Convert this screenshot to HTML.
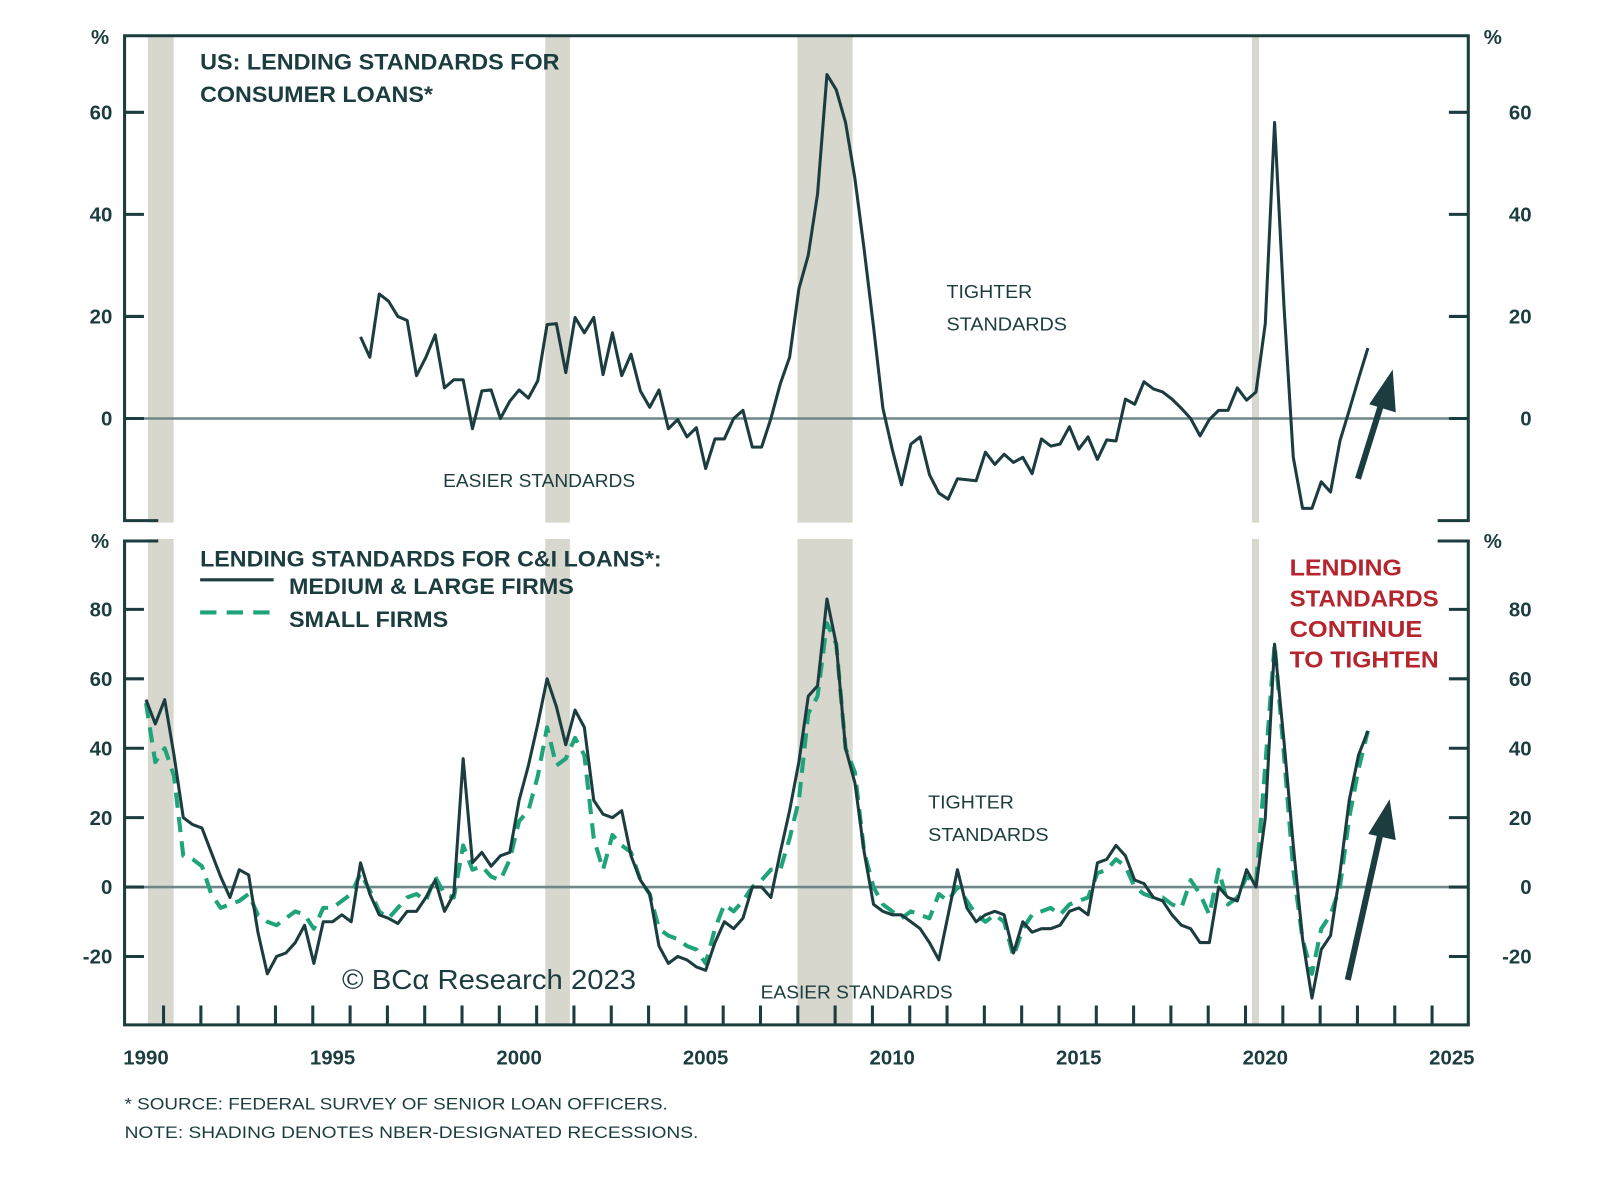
<!DOCTYPE html>
<html><head><meta charset="utf-8"><style>
html,body{margin:0;padding:0;background:#fff;}
svg{display:block;}
text{font-family:"Liberation Sans",sans-serif;fill:#1c3d3f;}
</style></head><body>
<svg id="chart" width="1600" height="1179" viewBox="0 0 1567 1155" preserveAspectRatio="none" xmlns="http://www.w3.org/2000/svg">
<g id="shades"></g>
<g id="grid"></g>
<g id="series"></g>
<g id="axes" stroke="#1c3d3f" stroke-width="3" fill="none">
  <path d="M155,510 H122 V35 H1438 V510 H1408"/>
  <path d="M155,530 H122 V1004 H1438 V530 H1408"/>
</g>
<g id="ticks"></g>
<g id="labels"></g>

<text x="98" y="43" font-size="20" font-weight="bold" text-anchor="middle">%</text>
<text x="1462" y="43" font-size="20" font-weight="bold" text-anchor="middle">%</text>
<text x="98" y="537" font-size="20" font-weight="bold" text-anchor="middle">%</text>
<text x="1462" y="537" font-size="20" font-weight="bold" text-anchor="middle">%</text>

<text x="196" y="68" font-size="22" font-weight="bold" textLength="352" lengthAdjust="spacingAndGlyphs">US: LENDING STANDARDS FOR</text>
<text x="196" y="100" font-size="22" font-weight="bold" textLength="228" lengthAdjust="spacingAndGlyphs">CONSUMER LOANS*</text>
<text x="927" y="292" font-size="18" textLength="84" lengthAdjust="spacingAndGlyphs">TIGHTER</text>
<text x="927" y="324" font-size="18" textLength="118" lengthAdjust="spacingAndGlyphs">STANDARDS</text>
<text x="434" y="477" font-size="18" textLength="188" lengthAdjust="spacingAndGlyphs">EASIER STANDARDS</text>

<text x="196" y="555" font-size="22" font-weight="bold" textLength="452" lengthAdjust="spacingAndGlyphs">LENDING STANDARDS FOR C&amp;I LOANS*:</text>
<line x1="196" y1="568" x2="268" y2="568" stroke="#1c3d3f" stroke-width="3"/>
<text x="283" y="582" font-size="22" font-weight="bold" textLength="279" lengthAdjust="spacingAndGlyphs">MEDIUM &amp; LARGE FIRMS</text>
<line x1="196" y1="600" x2="270" y2="600" stroke="#1fa37a" stroke-width="4" stroke-dasharray="16,10"/>
<text x="283" y="614" font-size="22" font-weight="bold" textLength="156" lengthAdjust="spacingAndGlyphs">SMALL FIRMS</text>
<text x="909" y="792" font-size="18" textLength="84" lengthAdjust="spacingAndGlyphs">TIGHTER</text>
<text x="909" y="824" font-size="18" textLength="118" lengthAdjust="spacingAndGlyphs">STANDARDS</text>
<text x="745" y="978" font-size="18" textLength="188" lengthAdjust="spacingAndGlyphs">EASIER STANDARDS</text>
<text x="335" y="969" font-size="27" font-family="Liberation Serif, serif" textLength="288" lengthAdjust="spacingAndGlyphs">© BCα Research 2023</text>

<g font-size="23" font-weight="bold">
<text x="1263" y="564" style="fill:#b5252e" textLength="110" lengthAdjust="spacingAndGlyphs">LENDING</text>
<text x="1263" y="594" style="fill:#b5252e" textLength="146" lengthAdjust="spacingAndGlyphs">STANDARDS</text>
<text x="1263" y="624" style="fill:#b5252e" textLength="130" lengthAdjust="spacingAndGlyphs">CONTINUE</text>
<text x="1263" y="654" style="fill:#b5252e" textLength="146" lengthAdjust="spacingAndGlyphs">TO TIGHTEN</text>
</g>
<g>
<line x1="1330" y1="469" x2="1354" y2="392" stroke="#1c3d3f" stroke-width="6"/>
<polygon points="1364,362 1367,404 1341,396" fill="#1c3d3f"/>
</g>
<g>
<line x1="1320" y1="960" x2="1353" y2="812" stroke="#1c3d3f" stroke-width="6"/>
<polygon points="1361,783 1367,823 1340,817" fill="#1c3d3f"/>
</g>

<text x="122" y="1087" font-size="16" textLength="532" lengthAdjust="spacingAndGlyphs">* SOURCE: FEDERAL SURVEY OF SENIOR LOAN OFFICERS.</text>
<text x="122" y="1115" font-size="16" textLength="562" lengthAdjust="spacingAndGlyphs">NOTE: SHADING DENOTES NBER-DESIGNATED RECESSIONS.</text>
</svg>
<script>
// ---- data ----
const consumerStart = 1995.75;
const consumerValues = [16,12,24.4,23,20,19.2,8.4,12,16.4,6,7.6,7.6,-2,5.4,5.6,0,3.4,5.6,4,7.4,18.4,18.6,9,19.8,16.8,19.8,8.6,16.8,8.4,12.6,5.4,2.2,5.6,-2,-0.2,-3.6,-1.8,-9.8,-4,-4,0,1.6,-5.6,-5.6,0,6.8,12,25.4,32,44,67.4,64.4,58,47,33,18,2,-6,-13,-5,-3.6,-11,-14.6,-15.8,-11.8,-12,-12.2,-6.6,-9,-7,-8.6,-7.6,-10.8,-4,-5.4,-5,-1.6,-6,-3.6,-8,-4.2,-4.4,3.8,2.8,7.2,5.8,5.2,3.8,2,0,-3.4,-0.2,1.6,1.6,6,3.6,5.2,18.6,58,22,-7.6,-17.6,-17.6,-12.4,-14.4,-4.4,1.6,7.8,13.8];
const ciStart = 1990.0;
const mediumLargeValues = [54,47,54,38,20,18,17,10,3,-3,5,3.5,-13,-25,-20,-19,-16,-11,-22,-10,-10,-8,-10,7,-2,-8,-9,-10.5,-7,-7,-3,2,-7,-2,37,7,10,6,9,10,25,35,47,60,52,41,51,46,25,21,20,22,9,2,-2,-17,-22,-20,-21,-23,-24,-16,-10,-12,-9,0,0,-3,10,22,36,55,58,83,70,40,30,10,-5,-7,-8,-8,-10,-12,-16,-21,-8,5,-6,-10,-8,-7,-8,-19,-10,-13,-12,-12,-11,-7,-6,-8,7,8,12,9,2,1,-3,-4,-8,-11,-12,-16,-16,0,-3,-4,5,0,20,70,42,12,-15,-32,-18,-14,4,25,38,45];
const smallFirmValues = [53,36,40,32,9,8,6,-2,-6,-5,-4,-2,-8,-10,-11,-9,-7,-8,-12,-6,-6,-4,-2,4,-1,-7,-9,-6,-3,-2,-4,3,-2,-3,12,5,6,3,2,8,19,22,32,46,35,37,43,38,14,5,15,12,10,2,-2,-12,-14,-15,-17,-18,-22,-12,-5,-7,-4,0,2,5,5,14,25,50,55,76,70,40,33,10,0,-5,-7,-9,-7,-8,-9,-2,-4,0,-4,-8,-10,-8,-10,-20,-12,-8,-7,-6,-8,-5,-4,-3,4,5,8,6,0,-2,-3,-3,-5,-6,2,-2,-8,5,-5,-3,3,1,35,70,38,5,-15,-25,-12,-8,0,20,34,45];
const recessionStarts = [1990.05, 2000.70, 2007.46, 2019.64];
const recessionEnds = [1990.74, 2001.36, 2008.94, 2019.83];
const topTicks = [60,40,20,0];
const bottomTicks = [80,60,40,20,0,-20];
const yearLabels = [1990,1995,2000,2005,2010,2015,2020,2025];

// ---- axes ----
const NS = "http://www.w3.org/2000/svg";
const xS = y => 143 + (y - 1990) * 36.54;
const yTop = v => 410 - v * 5;
const yBot = v => 869 - v * 3.4;
function mk(tag, attrs, parent){const e=document.createElementNS(NS,tag);for(const k in attrs)e.setAttribute(k,attrs[k]);parent.appendChild(e);return e;}

const shades = document.getElementById('shades');
recessionStarts.forEach((s,i)=>{
  const r = mk('rect',{x:xS(s),y:35,width:xS(recessionEnds[i])-xS(s),height:969,fill:'#d7d7ce'},shades);
  
  
});
const gap = mk('rect',{x:110,y:512,width:1340,height:16,fill:'#fff'},shades);



const grid = document.getElementById('grid');
const z1 = mk('line',{x1:122,x2:1438,y1:yTop(0),y2:yTop(0),stroke:'#6f8789','stroke-width':2.5},grid);


const z2 = mk('line',{x1:122,x2:1438,y1:yBot(0),y2:yBot(0),stroke:'#6f8789','stroke-width':2.5},grid);



const ticks = document.getElementById('ticks');
const labels = document.getElementById('labels');
function ytick(y, v){
  const a = mk('line',{x1:122,x2:141,y1:y,y2:y,stroke:'#1c3d3f','stroke-width':3},ticks);
  
  
  const b = mk('line',{x1:1419,x2:1438,y1:y,y2:y,stroke:'#1c3d3f','stroke-width':3},ticks);
  
  
  const t1 = mk('text',{x:110,y:y+7,'font-size':20,'font-weight':'bold','text-anchor':'end'},labels);
  t1.textContent = v;
  
  
  const t2 = mk('text',{x:1500,y:y+7,'font-size':20,'font-weight':'bold','text-anchor':'end'},labels);
  t2.textContent = v;
  
  
}
topTicks.forEach(v=>ytick(yTop(v),v));
bottomTicks.forEach(v=>ytick(yBot(v),v));
for(let yr=1990; yr<=2024; yr++){
  const t = mk('line',{x1:xS(yr+0.47),x2:xS(yr+0.47),y1:985,y2:1004,stroke:'#1c3d3f','stroke-width':3},ticks);
  
  
}
yearLabels.forEach(yr=>{
  const t = mk('text',{x:xS(yr),y:1043,'font-size':20,'font-weight':'bold','text-anchor':'middle'},labels);
  t.textContent = yr;
  
  
});

// ---- series ----
const series = document.getElementById('series');
function path(start, vals, yf){return vals.map((v,i)=>(i?'L':'M')+xS(start+i*0.25).toFixed(1)+','+yf(v).toFixed(1)).join(' ');}
const small = mk('path',{d:path(ciStart,smallFirmValues,yBot),fill:'none',stroke:'#1fa37a','stroke-width':4,'stroke-dasharray':'15,9','stroke-linejoin':'round'},series);


const ml = mk('path',{d:path(ciStart,mediumLargeValues,yBot),fill:'none',stroke:'#1c3d3f','stroke-width':3,'stroke-linejoin':'round'},series);


const cons = mk('path',{d:path(consumerStart,consumerValues,yTop),fill:'none',stroke:'#1c3d3f','stroke-width':3,'stroke-linejoin':'round'},series);


</script>
</body></html>
